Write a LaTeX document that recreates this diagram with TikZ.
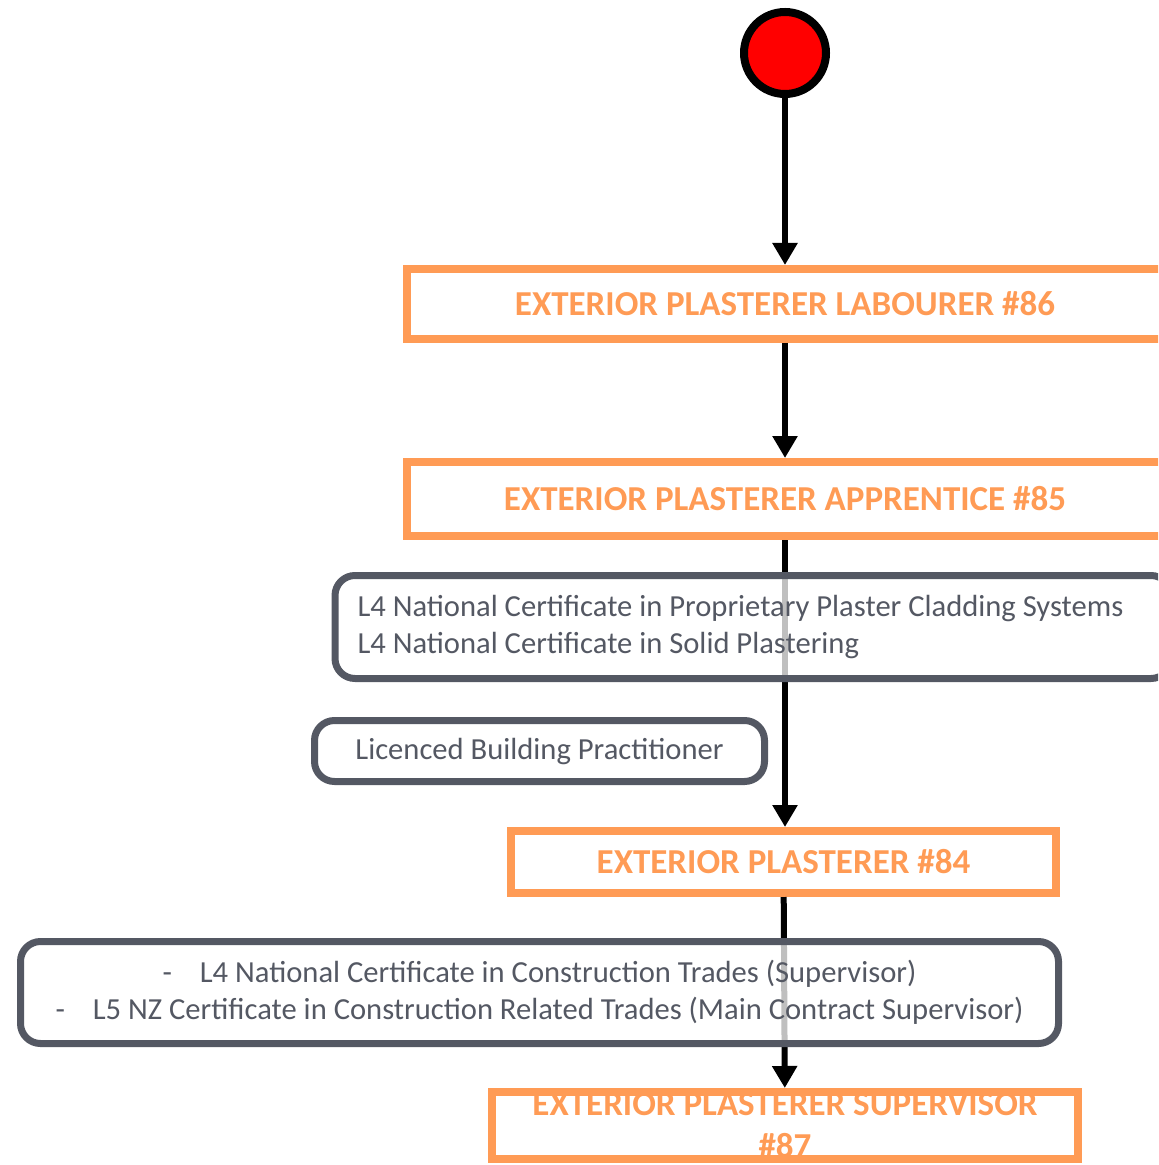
\documentclass[tikz,border=0pt]{standalone}
\usepackage{fontspec}
\setmainfont{Carlito}
\usetikzlibrary{arrows.meta}
\definecolor{jobor}{HTML}{FF9B55}
\definecolor{certgr}{HTML}{545863}
\tikzset{
  job/.style={draw=jobor,line width=4pt,text=jobor,font=\fontsize{17.5}{21}\selectfont\bfseries,align=center,inner sep=0pt},
  cert/.style={draw=certgr,line width=3.5pt,rounded corners=10pt,fill=white,fill opacity=0.75,text opacity=1,text=certgr,font=\fontsize{15.3}{18.3}\selectfont,inner sep=0pt},
  link/.style={->,line width=3pt}
}
\begin{document}
\begin{tikzpicture}[>={Triangle[length=11pt,width=12pt]},x=0.5pt,y=-0.5pt]
  \useasboundingbox (0,0) rectangle (1158,1165);
  \clip (0,0) rectangle (1158,1165);
  % start point
  \node[circle,draw=black,line width=4pt,fill=red,minimum size=41pt,inner sep=0pt] (start) at (785,53) {};
  % job levels
  \node[job,minimum width=378pt,minimum height=35pt] (lab) at (785,304) {EXTERIOR PLASTERER LABOURER \#86};
  \node[job,minimum width=378pt,minimum height=37pt] (app) at (785,499) {EXTERIOR PLASTERER APPRENTICE \#85};
  \node[job,minimum width=272.5pt,minimum height=31pt] (pla) at (783.5,862) {EXTERIOR PLASTERER \#84};
  \node[job,minimum width=293pt,minimum height=33.5pt,font=\fontsize{17.5}{21}\selectfont\bfseries] (sup) at (785,1125.5) {EXTERIOR PLASTERER SUPERVISOR\\\#87};
  % connectors
  \draw[link] (start) -- (lab);
  \draw[link] (lab) -- (app);
  \draw[link] (app) -- (pla.north -| app.south);
  \draw[link] (pla) -- (sup);
  % qualifications
  \node[cert,anchor=west,minimum width=418pt,minimum height=51.5pt,text width=395.5pt,inner xsep=11.25pt,align=flush left] (nc4) at (331.5,627)
    {L4 National Certificate in Proprietary Plaster Cladding Systems\\L4 National Certificate in Solid Plastering};
  \node[cert,minimum width=225pt,minimum height=30.5pt,align=center] (lbp) at (539.5,751)
    {Licenced Building Practitioner};
  \node[cert,minimum width=519pt,minimum height=51pt,align=center,font=\fontsize{15.3}{18.5}\selectfont] (ncs) at (539.5,992.5)
    {-\hspace{14pt}L4 National Certificate in Construction Trades (Supervisor)\\-\hspace{14pt}L5 NZ Certificate in Construction Related Trades (Main Contract Supervisor)};
\end{tikzpicture}
\end{document}
